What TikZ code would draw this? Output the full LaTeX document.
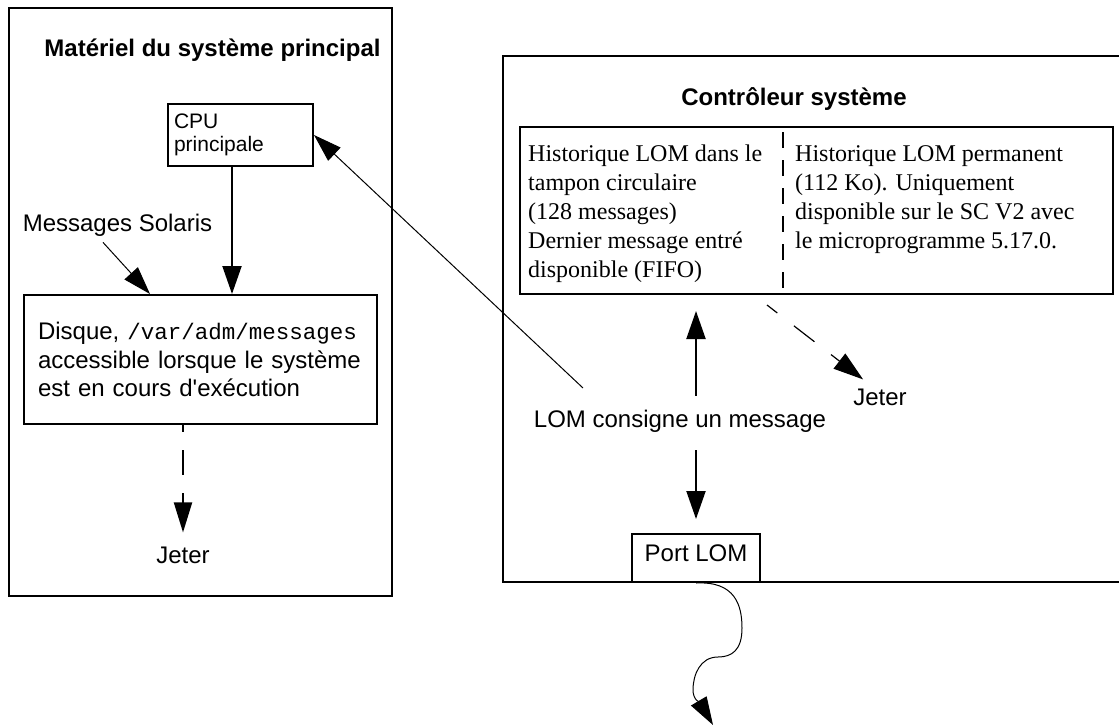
\documentclass[tikz,border=0pt]{standalone}
\usepackage{fontspec}
\setmainfont{Liberation Serif}
\setsansfont{Liberation Sans}
\setmonofont{Liberation Mono}
\usetikzlibrary{arrows.meta,calc}
\begin{document}
\begin{tikzpicture}[x=1pt,y=-1pt,
  box/.style={draw,line width=2pt,anchor=north west,inner sep=0pt},
  sftext/.style={font=\sffamily\fontsize{24}{28.5}\selectfont,inner sep=0pt},
  titletext/.style={font=\sffamily\bfseries\fontsize{24}{29}\selectfont,inner sep=0pt},
  serif/.style={font=\rmfamily\fontsize{24}{29}\selectfont,inner sep=0pt,anchor=north west,align=left},
  bigarrow/.style={line width=2pt,-{Triangle[length=28pt,width=19pt]}},
  thinarrow/.style={line width=1pt,-{Triangle[length=28pt,width=18pt]}},
  dasharrow/.style={line width=2pt,dash pattern=on 25pt off 18pt,dash phase=18pt,-{Triangle[length=30pt,width=18pt]}},
  dasharrowthin/.style={line width=1.2pt,dash pattern=on 26pt off 21pt,dash phase=13pt,-{Triangle[length=30pt,width=19pt]}},
  divider/.style={line width=2pt,dash pattern=on 16pt off 12pt,dash phase=22pt},
]
\path[use as bounding box] (0,0) rectangle (1119,726);
\clip (0,0) rectangle (1119,726);

% left: main system hardware
\node[box,minimum width=383,minimum height=588] (lbox) at (8,7) {};
\node[titletext] (ltitle) at (212.5,50) {Matériel du système principal};
\node[box,minimum width=145,minimum height=62,align=left,text width=133,
      font=\sffamily\fontsize{21}{23.5}\selectfont] (cpu) at (167,103) {CPU\\principale};
\node[sftext] (sol) at (117.5,225) {Messages Solaris};
\node[box,minimum width=353,minimum height=129,align=left,text width=325,
      font=\sffamily\fontsize{24}{28.5}\selectfont] (disk) at (23,294)
      {Disque, {\fontsize{22.5}{28.5}\ttfamily /var/adm/messages}\\accessible lorsque le système\\est en cours d\textquotesingle exécution};
\node[sftext] (jeter1) at (183,555) {Jeter};

% right: system controller
\node[box,minimum width=640,minimum height=526] (rbox) at (502,55) {};
\node[titletext] (rtitle) at (794,99) {Contrôleur système};
\node[box,minimum width=593,minimum height=167] (inner) at (519,126) {};
\coordinate (divtop) at ($(inner.north west)+(264,0)$);
\node[serif] (hist1) at (528,145) {Historique LOM dans le\\tampon circulaire\\(128 messages)\\Dernier message entré\\disponible (FIFO)};
\node[serif] (hist2) at (795,145) {Historique LOM permanent\\(112 Ko). Uniquement\\disponible sur le SC V2 avec\\le microprogramme 5.17.0.};
\node[sftext,inner sep=0pt] (lom) at (680,421) {LOM consigne un message};
\node[sftext] (jeter2) at (880,397) {Jeter};
\node[box,minimum width=128,minimum height=48,font=\sffamily\fontsize{24}{28.5}\selectfont,text depth=10pt] (port) at (631,533) {Port LOM};
\coordinate (wavyend) at (713,725);

% connectors
\draw[divider] (divtop) -- (divtop |- inner.south);
\draw[bigarrow] ([xshift=-8.5pt]cpu.south) -- ([xshift=-8.5pt]cpu.south |- disk.north);
\draw[thinarrow] ($(sol.south)+(-14.5,6)$) -- ($(disk.north west)+(127,0)$);
\draw[dasharrow] (disk.south -| jeter1.north) -- ($(jeter1.north)+(0,-14)$);
\draw[thinarrow] ($(lom.center)+(-97,-33)$) -- (cpu.east);
\draw[bigarrow] ($(lom.north -| port.north)+(0,-14)$) -- ($(inner.south -| port.north)+(0,16)$);
\draw[bigarrow] ($(lom.south -| port.north)+(0,18)$) -- ($(port.north)+(0,-14)$);
\draw[dasharrowthin] ($(divtop |- inner.south)+(-16,10)$) -- ($(jeter2.north west)+(10,-9)$);
\draw[thinarrow] (port.south) .. controls (735,581) and (742,605) .. (742,628)
  .. controls (742,650) and (732,657) .. (718,657)
  .. controls (700,657) and (693,675) .. (693,690)
  .. controls (693,700) and (700,703) .. (wavyend);
\end{tikzpicture}
\end{document}
